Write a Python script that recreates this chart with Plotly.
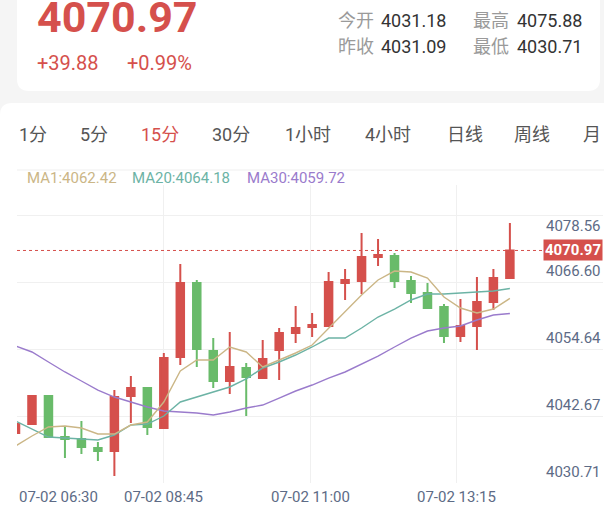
import plotly.graph_objects as go

# ---------------- data ----------------
opens = [4038.39, 4039.99, 4044.99, 4037.67, 4037.31, 4035.71, 4035.17, 4044.99, 4046.42, 4039.28,
         4051.95, 4065.16, 4053.02, 4047.67, 4049.99, 4048.20, 4053.20, 4056.24, 4057.31, 4057.49,
         4065.16, 4065.52, 4069.80, 4069.98, 4065.52, 4063.38, 4060.88, 4055.70, 4057.49, 4061.77,
         4066.06]
highs = [4040.17, 4045.17, 4045.08, 4039.46, 4040.53, 4036.78, 4046.06, 4048.56, 4046.60, 4052.67,
         4068.55, 4065.70, 4055.34, 4056.42, 4050.88, 4054.99, 4057.13, 4061.06, 4059.81, 4067.13,
         4067.66, 4074.09, 4073.02, 4070.52, 4066.41, 4065.16, 4061.41, 4062.31, 4066.23, 4067.66,
         4075.88]
lows = [4038.21, 4039.99, 4037.58, 4033.92, 4034.64, 4033.39, 4030.71, 4040.17, 4038.03, 4039.28,
        4050.52, 4050.17, 4046.42, 4045.35, 4041.42, 4048.03, 4047.85, 4054.45, 4055.52, 4057.49,
        4062.13, 4063.20, 4068.20, 4064.27, 4061.59, 4060.70, 4054.45, 4054.63, 4053.20, 4060.34,
        4066.06]
closes = [4039.99, 4044.99, 4037.67, 4037.31, 4035.89, 4035.17, 4044.81, 4046.42, 4039.46, 4051.77,
          4065.16, 4053.38, 4047.67, 4050.17, 4048.38, 4051.60, 4056.24, 4057.13, 4057.66, 4065.34,
          4065.70, 4069.80, 4070.16, 4065.52, 4063.38, 4060.70, 4055.70, 4057.49, 4061.77, 4066.06,
          4070.97]
ma1 = [4036.07, 4037.85, 4039.46, 4039.64, 4039.28, 4038.21, 4038.21, 4039.81, 4040.35, 4043.92,
       4049.45, 4051.42, 4051.42, 4053.74, 4052.85, 4050.17, 4051.42, 4052.67, 4054.09, 4057.13,
       4059.99, 4063.02, 4065.70, 4067.30, 4067.13, 4066.06, 4062.66, 4060.70, 4059.81, 4060.52,
       4062.42]
ma20 = [4040.53, 4039.10, 4037.67, 4037.49, 4037.31, 4037.14, 4038.03, 4039.81, 4039.99, 4041.42,
        4043.92, 4044.81, 4045.70, 4046.60, 4048.03, 4049.99, 4051.06, 4052.31, 4053.74, 4055.34,
        4055.34, 4057.13, 4059.09, 4060.52, 4062.13, 4063.20, 4063.20, 4063.38, 4063.56, 4063.73,
        4064.18]
ma30 = [4053.92, 4052.85, 4051.06, 4049.28, 4047.67, 4046.06, 4044.81, 4043.92, 4043.03, 4042.31,
        4042.13, 4041.96, 4041.60, 4042.13, 4042.85, 4043.38, 4044.63, 4045.88, 4046.95, 4048.20,
        4049.28, 4050.70, 4052.13, 4053.74, 4055.34, 4056.59, 4057.13, 4057.49, 4058.56, 4059.45,
        4059.72]
x_tick_labels = ["07-02 06:30", "07-02 08:45", "07-02 11:00", "07-02 13:15"]
y_tick_labels = ["4078.56", "4066.60", "4054.64", "4042.67", "4030.71"]
y_grid_vals = [4077.30, 4065.34, 4053.38, 4041.42, 4029.46]
last_price = 4070.97
change_abs = "+39.88"
change_pct = "+0.99%"
info_labels = ["今开", "最高", "昨收", "最低"]
info_values = ["4031.18", "4075.88", "4031.09", "4030.71"]
tabs = ["1分", "5分", "15分", "30分", "1小时", "4小时", "日线", "周线", "月"]
ma_names = ["MA1", "MA20", "MA30"]
ma_last = [4062.42, 4064.18, 4059.72]

# ---------------- layout geometry ----------------
W, H = 604, 510
L, R, T, B = 17, 1, 185, 27
PW, PH = W - L - R, H - T - B
XR = [0.091, 35.65]
YR = [4029.46, 4082.66]

RED = "#d5504c"
GREEN = "#69bb6a"
TAN = "#cbb686"
TEAL = "#6cb3a5"
PURPLE = "#9a7bcc"
AXTXT = "#5d6b86"
FONT = "Roboto, 'Noto Sans CJK SC', sans-serif"


def xp(px):
    return (px - L) / PW


def yp(py):
    return (H - B - py) / PH


def rrect(x0, y0, x1, y1, r):
    rx, ry = r, r
    pts = [
        ("M", [(x0 + rx, y0)]),
        ("L", [(x1 - rx, y0)]),
        ("Q", [(x1, y0), (x1, y0 + ry)]),
        ("L", [(x1, y1 - ry)]),
        ("Q", [(x1, y1), (x1 - rx, y1)]),
        ("L", [(x0 + rx, y1)]),
        ("Q", [(x0, y1), (x0, y1 - ry)]),
        ("L", [(x0, y0 + ry)]),
        ("Q", [(x0, y0), (x0 + rx, y0)]),
    ]
    s = ""
    for cmd, ps in pts:
        s += cmd + " ".join(f"{xp(a):.5f},{yp(b):.5f}" for a, b in ps) + " "
    return s + "Z"


xs = list(range(len(opens)))

fig = go.Figure()
fig.add_trace(go.Candlestick(
    x=xs, open=opens, high=highs, low=lows, close=closes,
    increasing=dict(line=dict(color=RED, width=2), fillcolor=RED),
    decreasing=dict(line=dict(color=GREEN, width=2), fillcolor=GREEN),
    whiskerwidth=0, hoverinfo="skip", showlegend=False,
))
for vals, col in [(ma30, PURPLE), (ma20, TEAL), (ma1, TAN)]:
    fig.add_trace(go.Scatter(x=xs, y=vals, mode="lines", line=dict(color=col, width=1.4),
                             hoverinfo="skip", showlegend=False))

shapes = [
    dict(type="path", xref="paper", yref="paper", path=rrect(17, -30, 600, 91, 12),
         fillcolor="white", line=dict(width=0), layer="below"),
    dict(type="path", xref="paper", yref="paper", path=rrect(0, 103, 640, 560, 12),
         fillcolor="white", line=dict(width=0), layer="below"),
    dict(type="line", xref="paper", yref="paper", x0=0, x1=xp(604), y0=yp(170), y1=yp(170),
         line=dict(color="#efefef", width=1), layer="below"),
    dict(type="line", xref="paper", yref="y", x0=0, x1=xp(546), y0=last_price, y1=last_price,
         line=dict(color=RED, width=1, dash="dot"), layer="above"),
]

ann = []


def add_text(text, x, y, size, color, xanchor="left", yanchor="middle", bold=False, **kw):
    ann.append(dict(text=f"<b>{text}</b>" if bold else text, x=xp(x), y=yp(y), xref="paper",
                    yref="paper", xanchor=xanchor, yanchor=yanchor, showarrow=False,
                    font=dict(family=FONT, size=size, color=color), **kw))


# header
add_text(f"{last_price:.2f}", 35, 17, 43, RED, bold=True)
add_text(change_abs, 35, 63, 20, RED)
add_text(change_pct, 125, 63, 20, RED)
info_x_lbl = [336, 471, 336, 471]
info_x_val = [379, 515, 379, 515]
info_y = [20, 20, 46, 46]
for i in range(4):
    add_text(info_labels[i], info_x_lbl[i], info_y[i], 18, "#9a9a9a")
    add_text(info_values[i], info_x_val[i], info_y[i], 18, "#333333")

# tabs
tab_x = [17, 78, 139, 210, 283, 363, 445, 512, 581]
for i, t in enumerate(tabs):
    add_text(t, tab_x[i], 135, 18, RED if i == 2 else "#555555")

# MA legend
ma_x = [25, 130, 245]
for i in range(3):
    add_text(f"{ma_names[i]}:{ma_last[i]:.2f}", ma_x[i], 178, 15, [TAN, TEAL, PURPLE][i])

# y labels
for i, (lbl, v) in enumerate(zip(y_tick_labels, y_grid_vals)):
    ann.append(dict(text=lbl, x=1, y=v, xref="paper", yref="y", xanchor="right",
                    yanchor="top" if i == 0 else "bottom", showarrow=False,
                    font=dict(family=FONT, size=15, color=AXTXT)))

# last price box
ann.append(dict(text=f"<b>{last_price:.2f}</b>", x=1, y=last_price, xref="paper", yref="y",
                xanchor="right", yanchor="middle", showarrow=False, bgcolor=RED, borderpad=1,
                font=dict(family=FONT, size=15, color="white")))

# x labels
x_grid = [XR[0] + k * (XR[1] - XR[0]) / 4 for k in range(5)]
for k, lbl in enumerate(x_tick_labels):
    ann.append(dict(text=lbl, x=x_grid[k], y=yp(497), xref="x", yref="paper",
                    xanchor="left" if k == 0 else "center", yanchor="middle", showarrow=False,
                    font=dict(family=FONT, size=15, color=AXTXT)))

fig.update_layout(
    width=W, height=H, margin=dict(l=L, r=R, t=T, b=B, pad=0),
    paper_bgcolor="#f5f5f5", plot_bgcolor="rgba(0,0,0,0)",
    shapes=shapes, annotations=ann, boxgap=0.35, showlegend=False,
    xaxis=dict(range=XR, tickvals=x_grid, showticklabels=False, showgrid=True,
               gridcolor="#f0f0f0", gridwidth=1, zeroline=False, showline=False,
               rangeslider=dict(visible=False), fixedrange=True),
    yaxis=dict(range=YR, tickvals=y_grid_vals, showticklabels=False, showgrid=True,
               gridcolor="#f0f0f0", gridwidth=1, zeroline=False, showline=False, fixedrange=True),
    hovermode=False,
)

fig.write_html("out.html", config={"displayModeBar": False})
